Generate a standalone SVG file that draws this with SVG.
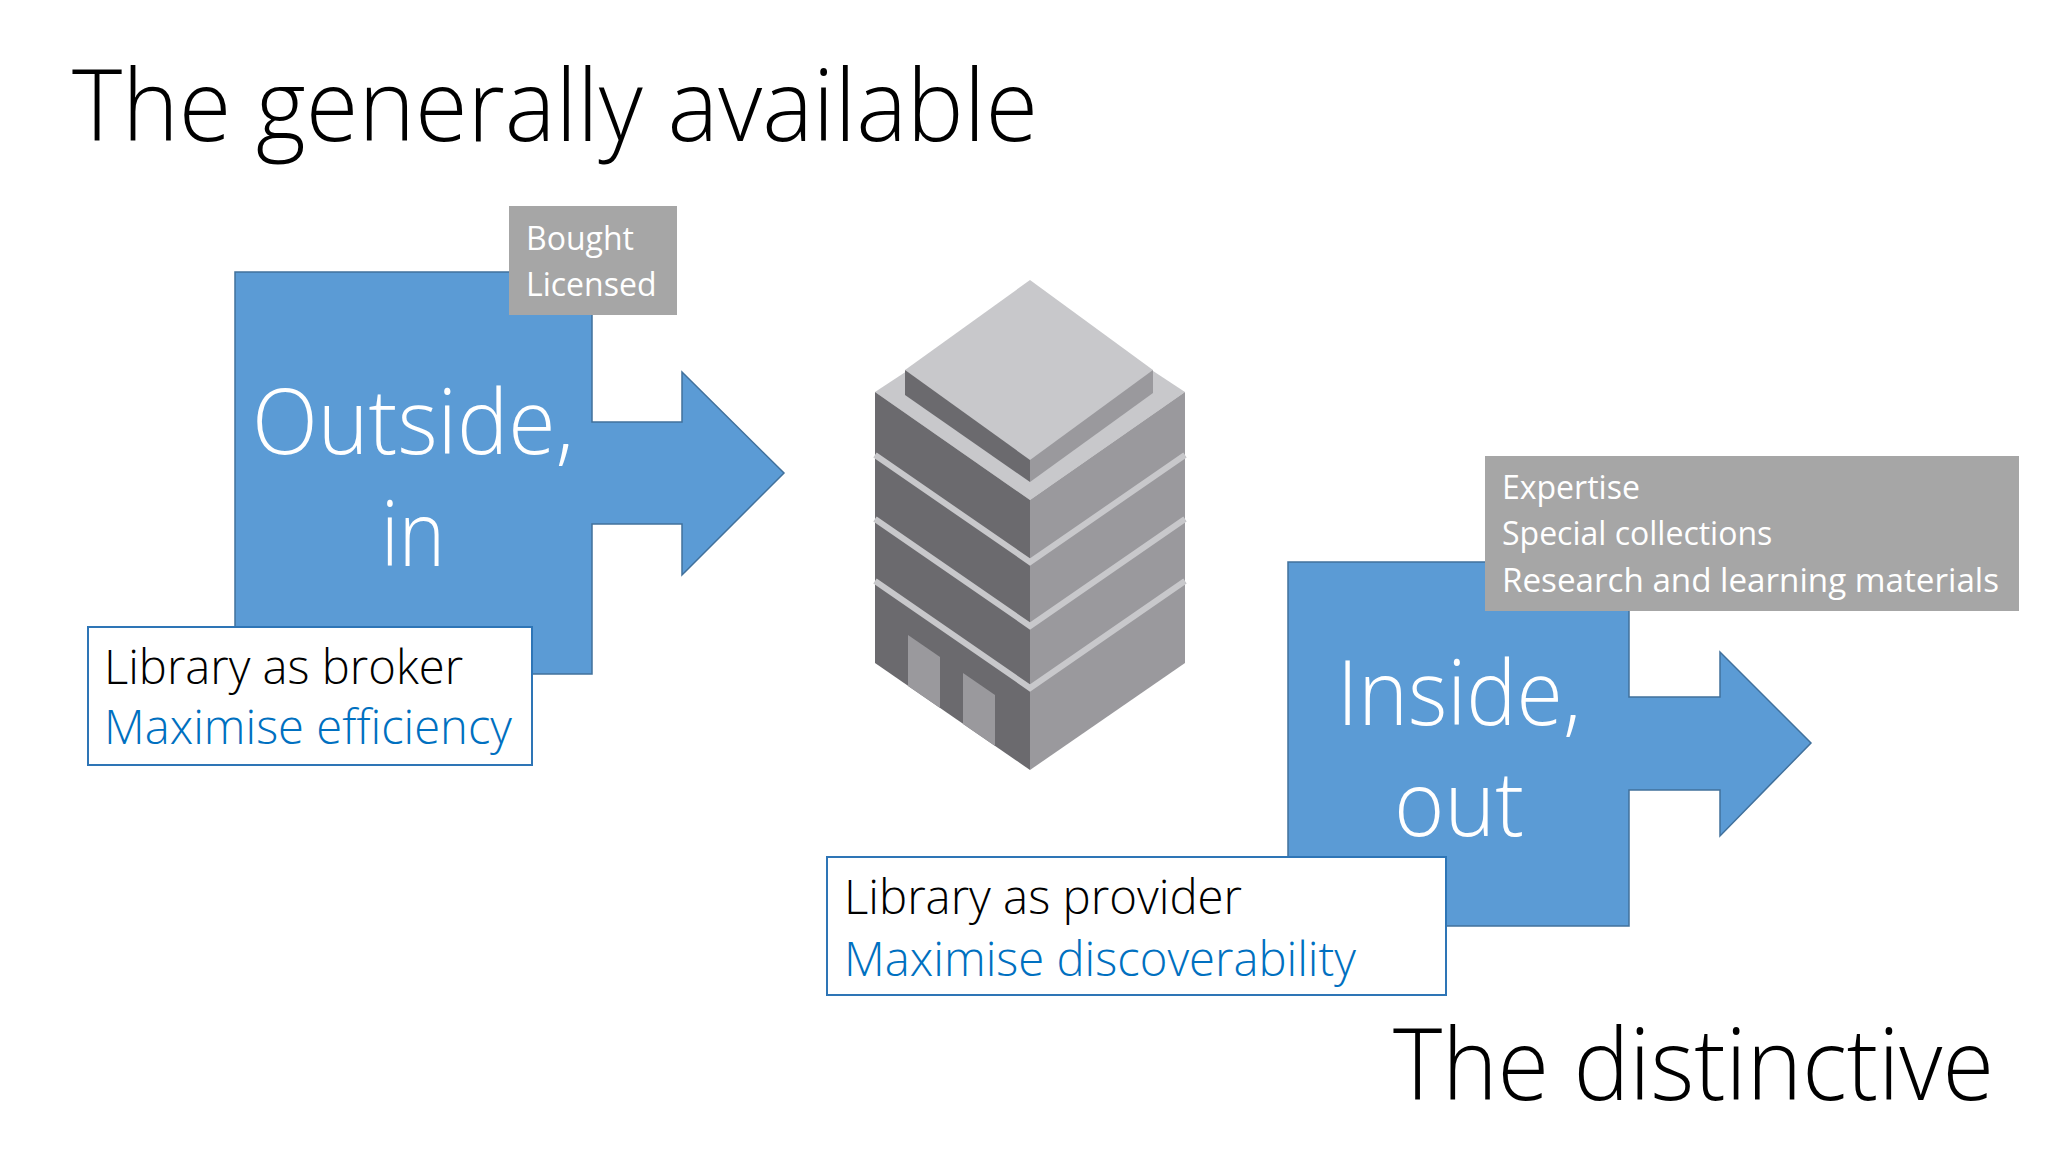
<svg xmlns="http://www.w3.org/2000/svg" width="2048" height="1152" viewBox="0 0 2048 1152">
<style>
text{font-family:"Open Sans","Liberation Sans",sans-serif;font-weight:300}
.title{font-size:100px;fill:#000}
.big{font-size:90px;fill:#fff;text-anchor:middle}
.gray{fill:#a6a6a6}
.gt{font-size:32px;fill:#fff;font-weight:400}
.arrow{fill:#5b9bd5;stroke:#41719c;stroke-width:1.5}
.lab{fill:#fff;stroke:#2e75b6;stroke-width:2}
.lt{font-size:47px;fill:#000}
.lb{font-size:47px;fill:#0070c0}
</style>
<rect width="2048" height="1152" fill="#fff"/>
<text class="title" x="72" y="141" textLength="966" lengthAdjust="spacingAndGlyphs">The generally available</text>
<text class="title" x="1393" y="1100" textLength="601" lengthAdjust="spacingAndGlyphs">The distinctive</text>
<g id="connectors"></g>
<g id="outside-in">
<polygon class="arrow" points="235,272 592,272 592,422 682,422 682,372 784,473 682,575 682,524 592,524 592,674 235,674"/>
<text class="big" x="413" y="454" textLength="322" lengthAdjust="spacingAndGlyphs">Outside,</text>
<text class="big" x="413" y="566" textLength="64" lengthAdjust="spacingAndGlyphs">in</text>
</g>
<g id="bought">
<rect class="gray" x="509" y="206" width="168" height="109"/>
<text class="gt" x="526" y="250">Bought</text>
<text class="gt" x="526" y="296">Licensed</text>
</g>
<g id="broker">
<rect class="lab" x="88" y="627" width="444" height="138"/>
<text class="lt" x="104" y="684" textLength="359" lengthAdjust="spacingAndGlyphs">Library as broker</text>
<text class="lb" x="104" y="744" textLength="408" lengthAdjust="spacingAndGlyphs">Maximise efficiency</text>
</g>
<g id="building">
<polygon fill="#c8c8cb" points="875,392 1030,290 1185,392 1030,500"/>
<polygon fill="#6b6a6e" points="875,392 1030,500 1030,770 875,663"/>
<polygon fill="#9a999d" points="1030,500 1185,392 1185,663 1030,770"/>
<g fill="none" stroke="#c8c8cb" stroke-width="6">
<polyline points="875,455 1030,562 1185,455"/>
<polyline points="875,519 1030,626 1185,519"/>
<polyline points="875,581 1030,688 1185,581"/>
</g>
<polygon fill="#c8c8cb" points="1030,280 1153,370 1030,460 905,370"/>
<polygon fill="#6b6a6e" points="905,370 1030,460 1030,482 905,395"/>
<polygon fill="#9a999d" points="1030,460 1153,370 1153,393 1030,482"/>
<polygon fill="#9a999d" points="908,635 940,657 940,708 908,686"/>
<polygon fill="#9a999d" points="963,673 995,695 995,746 963,724"/>
</g>
<g id="inside-out">
<polygon class="arrow" points="1288,562 1629,562 1629,697 1720,697 1720,652 1811,743 1720,836 1720,790 1629,790 1629,926 1288,926"/>
<text class="big" x="1459" y="725" textLength="244" lengthAdjust="spacingAndGlyphs">Inside,</text>
<text class="big" x="1459" y="836" textLength="130" lengthAdjust="spacingAndGlyphs">out</text>
</g>
<g id="expertise">
<rect class="gray" x="1485" y="456" width="534" height="155"/>
<text class="gt" x="1502" y="499">Expertise</text>
<text class="gt" x="1502" y="545">Special collections</text>
<text class="gt" x="1502" y="592" textLength="497" lengthAdjust="spacingAndGlyphs">Research and learning materials</text>
</g>
<g id="provider">
<rect class="lab" x="827" y="857" width="619" height="138"/>
<text class="lt" x="844" y="914" textLength="398" lengthAdjust="spacingAndGlyphs">Library as provider</text>
<text class="lb" x="844" y="976" textLength="512" lengthAdjust="spacingAndGlyphs">Maximise discoverability</text>
</g>
</svg>
